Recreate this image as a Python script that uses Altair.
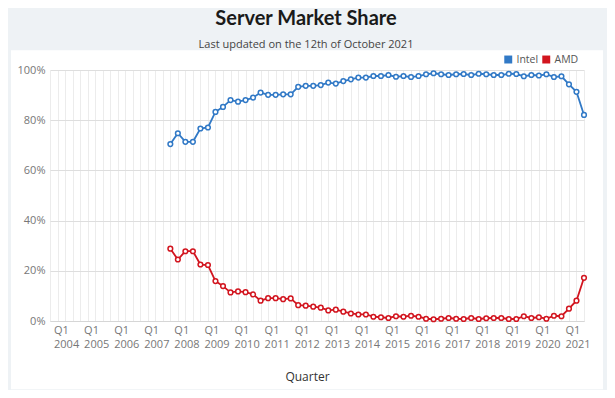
import altair as alt
import pandas as pd

# ---- data ----
series_names = ["Intel", "AMD"]
series_colors = ["#3179c6", "#d2151f"]
axis_start_year = 2004          # first labelled year (Q1)
first_year, first_quarter = 2007, 4   # first data point
intel_share = [70.5, 74.8, 71.4, 71.4, 76.7, 77.1, 83.3, 85.3, 88.0, 87.4,
               88.0, 89.0, 91.0, 90.1, 90.1, 90.3, 90.3, 93.3, 93.7, 93.7,
               94.0, 95.0, 94.6, 95.6, 96.3, 97.0, 97.0, 97.6, 97.6, 98.0,
               97.3, 97.6, 97.2, 97.6, 98.3, 98.7, 98.3, 98.0, 98.3, 98.4,
               98.0, 98.5, 98.3, 98.0, 98.0, 98.5, 98.4, 97.5, 98.0, 97.8,
               98.3, 97.2, 97.5, 94.3, 91.3, 82.1]
amd_share = [28.8, 24.5, 27.8, 27.8, 22.5, 22.3, 15.9, 13.9, 11.4, 11.8,
             11.5, 10.6, 8.1, 9.1, 9.1, 8.7, 9.0, 6.3, 6.1, 5.7,
             5.3, 4.2, 4.5, 3.7, 3.0, 2.6, 2.6, 1.7, 1.5, 1.2,
             1.9, 1.7, 2.1, 1.7, 0.9, 0.7, 0.9, 1.2, 0.9, 0.8,
             1.2, 0.8, 1.1, 1.2, 1.2, 0.8, 0.8, 1.9, 1.2, 1.5,
             0.9, 2.1, 1.9, 4.9, 8.1, 17.2]
y_ticks = [0, 20, 40, 60, 80, 100]

rows = []
start_idx = (first_year - axis_start_year) * 4 + (first_quarter - 1)
for name, vals in zip(series_names, [intel_share, amd_share]):
    for i, v in enumerate(vals):
        rows.append({"series": name, "q": start_idx + i, "share": v})
df = pd.DataFrame(rows)
last_idx = start_idx + len(intel_share) - 1

BG = "#eef2f5"
W, H = 534, 251
PAD = {"left": 42, "top": 62, "right": 23, "bottom": 69}

x_enc = alt.X(
    "q:Q",
    scale=alt.Scale(domain=[-1, last_idx], nice=False, zero=False),
    axis=alt.Axis(
        values=list(range(-1, last_idx + 1)),
        labelExpr=f"datum.value >= 0 && datum.value % 4 == 0 ? ['Q1', '' + ({axis_start_year} + datum.value / 4)] : ''",
        labelOverlap=False, labelBound=False, labelFlush=False,
        labelAlign="left", labelOffset=-4, labelPadding=3, labelLineHeight=14,
        ticks=False, domain=True, domainColor="#d6d6d6",
        gridColor="#ececec", title="Quarter", titleFont="Open Sans",
        titleFontSize=12, titleFontWeight="normal", titleColor="#333",
        titleX=257, titleY=55, titleAlign="center", titleBaseline="middle",
    ),
)
y_enc = alt.Y(
    "share:Q",
    scale=alt.Scale(domain=[0, 100], nice=False),
    axis=alt.Axis(values=y_ticks, labelExpr="datum.value + '%'", title=None,
                  domain=False, ticks=False, labelPadding=5, gridColor="#dedede"),
)
color_enc = alt.Color(
    "series:N", scale=alt.Scale(domain=series_names, range=series_colors),
    legend=alt.Legend(title=None, orient="none", legendX=453, legendY=-16,
                      direction="horizontal", symbolType="square",
                      symbolSize=6, symbolStrokeWidth=5.5, symbolOpacity=1,
                      labelFont="Open Sans", labelFontSize=10.5, labelColor="#555",
                      columnPadding=-5, labelOffset=3, padding=0))

base = alt.Chart(df).encode(x=x_enc, y=y_enc, color=color_enc)
lines = base.mark_line(strokeWidth=1.8)
points = base.mark_point(filled=False, fill="white", size=22, strokeWidth=1.5, opacity=1)

# decorative page frame (grey margin around the white panel)
frame_specs = [(-42, 557, -62, -19.7), (-42, 557, 319.3, 321),
               (-42, -39, -62, 321), (553, 557, -62, 321)]
one = pd.DataFrame({"a": [0]})
frame_layers = [
    alt.Chart(one).mark_rect(color=BG).encode(
        x=alt.value(a), x2=alt.value(b), y=alt.value(c), y2=alt.value(d))
    for a, b, c, d in frame_specs
]

chart = alt.layer(*frame_layers, lines, points).properties(
    width=W, height=H, padding=PAD, autosize=alt.AutoSizeParams(type="none"),
    background="white",
    title=alt.TitleParams("Server Market Share",
                          subtitle="Last updated on the 12th of October 2021",
                          font="Lato", fontSize=20, fontWeight="bold", color="#1a1a1a",
                          subtitleFont="Open Sans", subtitleFontSize=11,
                          subtitleColor="#444", anchor="middle", frame="group",
                          dx=-11, offset=-42, subtitlePadding=10, zindex=1),
).configure_axis(
    labelFont="Open Sans", labelFontSize=11, labelColor="#777"
).configure_view(stroke=None)

chart.save("out.html", embed_options={"renderer": "svg", "actions": False})
